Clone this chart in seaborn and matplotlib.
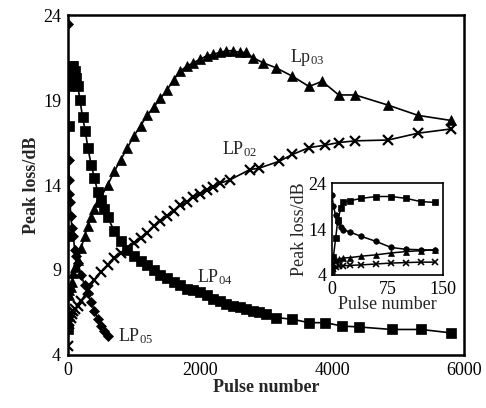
import matplotlib
matplotlib.use("Agg")
import matplotlib.pyplot as plt
import seaborn as sns
import numpy as np

# ---------------- data ----------------
lp04_x = [0, 5, 10, 15, 20, 30, 40, 60, 80, 100, 120, 150, 180, 220, 260, 300, 350, 400, 450, 500,
          550, 600, 700, 800, 900, 1000, 1100, 1200, 1300, 1400, 1500, 1600, 1700, 1800, 1900, 2000,
          2100, 2200, 2300, 2400, 2500, 2600, 2700, 2800, 2900, 3000, 3150, 3400, 3650, 3900, 4150,
          4400, 4900, 5350, 5800]
lp04_y = [5.5, 11.0, 17.5, 19.8, 20.3, 20.6, 20.8, 21.0, 21.0, 20.7, 20.3, 19.8, 19.0, 18.0, 17.2,
          16.2, 15.2, 14.4, 13.6, 13.1, 12.6, 12.1, 11.3, 10.7, 10.2, 9.8, 9.5, 9.3, 9.0, 8.7, 8.5,
          8.3, 8.1, 7.9, 7.8, 7.7, 7.5, 7.3, 7.2, 7.0, 6.9, 6.8, 6.7, 6.6, 6.5, 6.4, 6.2, 6.1, 5.9,
          5.9, 5.7, 5.65, 5.5, 5.5, 5.3]

lp05_x = [0, 5, 10, 15, 20, 30, 40, 60, 80, 100, 120, 150, 200, 250, 300, 350, 400, 450, 500, 550, 600]
lp05_y = [23.5, 17.5, 15.5, 14.3, 13.5, 13.0, 12.2, 11.5, 11.0, 10.2, 9.8, 9.4, 8.7, 8.1, 7.65,
          7.1, 6.6, 6.1, 5.7, 5.4, 5.1]

lp03_x = [0, 10, 20, 40, 60, 80, 100, 150, 200, 250, 300, 350, 400, 450, 500, 600, 700, 800, 900,
          1000, 1100, 1200, 1300, 1400, 1500, 1600, 1700, 1800, 1900, 2000, 2100, 2200, 2300, 2400,
          2500, 2600, 2700, 2800, 2950, 3150, 3400, 3650, 3850, 4100, 4350, 4850, 5300, 5800]
lp03_y = [6.5, 7.5, 7.8, 8.0, 8.3, 8.8, 9.2, 9.6, 10.3, 11.0, 11.6, 12.1, 12.6, 13.0, 13.3, 14.0,
          14.8, 15.5, 16.2, 16.9, 17.5, 18.1, 18.6, 19.1, 19.6, 20.2, 20.7, 21.0, 21.2, 21.4, 21.6,
          21.7, 21.8, 21.9, 21.9, 21.8, 21.8, 21.5, 21.2, 20.9, 20.4, 19.8, 20.1, 19.3, 19.3, 18.7,
          18.1, 17.8]

lp02_x = [0, 10, 20, 40, 60, 80, 100, 150, 200, 300, 400, 500, 600, 700, 800, 900, 1000, 1100,
          1200, 1300, 1400, 1500, 1600, 1700, 1800, 1900, 2000, 2100, 2200, 2300, 2450, 2750, 2900,
          3200, 3400, 3650, 3900, 4100, 4350, 4850, 5300, 5800]
lp02_y = [4.5, 5.8, 6.0, 6.2, 6.4, 6.6, 6.7, 6.9, 7.2, 7.8, 8.4, 8.9, 9.3, 9.7, 10.0, 10.3, 10.6,
          10.9, 11.2, 11.6, 11.9, 12.2, 12.5, 12.8, 13.0, 13.3, 13.5, 13.7, 13.9, 14.1, 14.3, 14.9,
          15.0, 15.4, 15.8, 16.2, 16.35, 16.5, 16.6, 16.65, 17.05, 17.3]

# inset (first 150 pulses)
in04_x = [0, 2, 5, 8, 12, 15, 25, 40, 60, 80, 100, 120, 140]
in04_y = [5.5, 8.0, 12.0, 16.0, 18.5, 19.8, 20.2, 20.7, 21.1, 21.1, 20.7, 20.0, 19.8]
in05_x = [0, 2, 5, 8, 12, 15, 25, 40, 60, 80, 100, 120, 140]
in05_y = [21.5, 19.0, 17.0, 15.5, 14.5, 13.9, 13.3, 12.4, 11.3, 10.0, 9.6, 9.5, 9.4]
in03_x = [0, 2, 5, 10, 15, 25, 40, 60, 80, 100, 120, 140]
in03_y = [5.0, 6.5, 7.2, 7.5, 7.7, 7.8, 8.1, 8.4, 8.8, 9.1, 9.3, 9.5]
in02_x = [0, 2, 5, 10, 15, 25, 40, 60, 80, 100, 120, 140]
in02_y = [4.5, 5.3, 5.7, 5.9, 6.0, 6.1, 6.2, 6.4, 6.6, 6.7, 6.8, 6.8]

main_xticks = [0, 2000, 4000, 6000]
main_yticks = [4, 9, 14, 19, 24]
inset_xticks = [0, 75, 150]
inset_yticks = [4, 14, 24]

# ---------------- style ----------------
sns.set_theme(style="white")
plt.rcParams['font.family'] = ['Liberation Serif', 'DejaVu Serif']
plt.rcParams['mathtext.fontset'] = 'custom'
plt.rcParams['mathtext.rm'] = 'Liberation Serif'
plt.rcParams['mathtext.it'] = 'Liberation Serif'

fig = plt.figure(figsize=(4.86, 4.08), dpi=100)
ax = fig.add_axes([0.140, 0.130, 0.815, 0.833])

series = [
    (lp04_x, lp04_y, 's', 7.5),
    (lp05_x, lp05_y, 'D', 5),
    (lp03_x, lp03_y, '^', 7),
    (lp02_x, lp02_y, 'x', 7),
]
for xs, ys, m, ms in series:
    sns.lineplot(x=xs, y=ys, ax=ax, color='black', marker=m, markersize=ms,
                 markeredgecolor='black', markeredgewidth=1.6 if m == 'x' else 0.5,
                 linewidth=1.2, estimator=None, sort=False)

ax.set_xlim(0, 6000)
ax.set_ylim(4, 24)
ax.set_xticks(main_xticks)
ax.set_yticks(main_yticks)
ax.set_xticklabels([str(t) for t in main_xticks], fontsize=13)
ax.set_yticklabels([str(t) for t in main_yticks], fontsize=13)
ax.tick_params(direction='out', length=4, width=1.2, pad=1, colors='black')
for s in ax.spines.values():
    s.set_linewidth(1.8)
    s.set_color('black')
ax.set_xlabel('Pulse number', fontsize=13, fontweight='bold', labelpad=0)
ax.set_ylabel('Peak loss/dB', fontsize=13, fontweight='bold', labelpad=2)

ax.text(3360, 21.5, r'Lp$_{\mathrm{03}}$', fontsize=13, va='center', ha='left')
ax.text(2330, 16.1, r'LP$_{\mathrm{02}}$', fontsize=13, va='center', ha='left')
ax.text(1955, 8.6, r'LP$_{\mathrm{04}}$', fontsize=13, va='center', ha='left')
ax.text(760, 5.1, r'LP$_{\mathrm{05}}$', fontsize=13, va='center', ha='left')

# ---------------- inset ----------------
ins = fig.add_axes([0.683, 0.326, 0.228, 0.225])
inset_series = [
    (in04_x, in04_y, 's', 5),
    (in05_x, in05_y, 'o', 4),
    (in03_x, in03_y, '^', 4.5),
    (in02_x, in02_y, 'x', 4.5),
]
for xs, ys, m, ms in inset_series:
    sns.lineplot(x=xs, y=ys, ax=ins, color='black', marker=m, markersize=ms,
                 markeredgecolor='black', markeredgewidth=1.2 if m == 'x' else 0.5,
                 linewidth=1.1, estimator=None, sort=False)
ins.set_xlim(0, 150)
ins.set_ylim(4, 24)
ins.set_xticks(inset_xticks)
ins.set_yticks(inset_yticks)
ins.set_xticklabels([str(t) for t in inset_xticks], fontsize=13)
ins.set_yticklabels([str(t) for t in inset_yticks], fontsize=13)
ins.tick_params(direction='out', length=3, width=1.0, pad=1, colors='black')
for s in ins.spines.values():
    s.set_linewidth(1.2)
    s.set_color('black')
ins.set_xlabel('Pulse number', fontsize=13, labelpad=-1)
ins.set_ylabel('Peak loss/dB', fontsize=13, labelpad=0)
ins.set_facecolor('white')

fig.savefig('out.png', dpi=100, facecolor='white')
